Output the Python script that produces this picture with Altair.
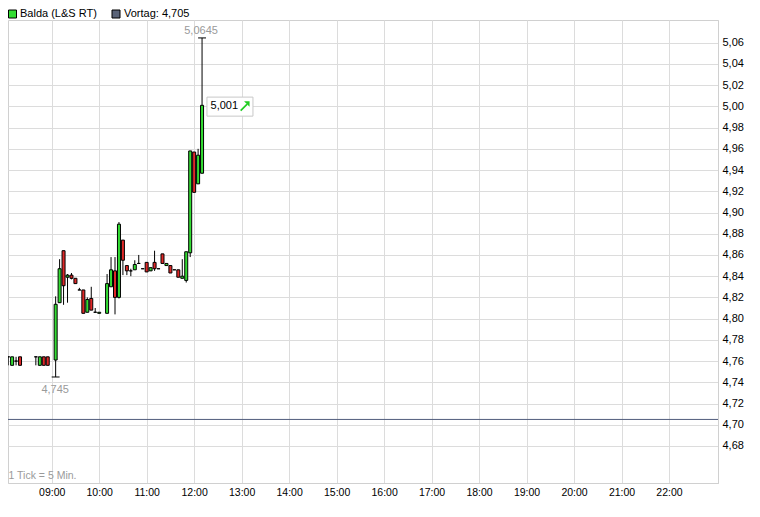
import altair as alt
import pandas as pd

# ---------------- data ----------------
times = ["08:00", "08:05", "08:10", "08:15", "08:20", "08:40", "08:45", "08:50", "08:55",
         "09:05", "09:10", "09:15", "09:20", "09:25", "09:30", "09:35", "09:40", "09:45",
         "09:50", "09:55", "10:00", "10:10", "10:15", "10:20", "10:25", "10:30", "10:35",
         "10:40", "10:45", "10:50", "10:55", "11:00", "11:05", "11:10", "11:15", "11:20",
         "11:25", "11:30", "11:35", "11:40", "11:45", "11:50", "11:55", "12:00", "12:05",
         "12:10"]
opens = [4.756, 4.764, 4.756, 4.760, 4.764, 4.764, 4.756, 4.764, 4.764,
         4.761, 4.815, 4.864, 4.839, 4.841, 4.838, 4.827, 4.827, 4.806,
         4.819, 4.806, 4.805, 4.805, 4.830, 4.845, 4.820, 4.874, 4.850,
         4.845, 4.846, 4.852, 4.847, 4.853, 4.845, 4.853, 4.847, 4.861,
         4.850, 4.850, 4.846, 4.846, 4.838, 4.836, 4.862, 4.957, 4.927,
         4.937]
highs = [4.756, 4.764, 4.764, 4.764, 4.764, 4.764, 4.764, 4.764, 4.764,
         4.821, 4.856, 4.864, 4.842, 4.843, 4.838, 4.829, 4.827, 4.820,
         4.830, 4.810, 4.806, 4.842, 4.858, 4.858, 4.891, 4.874, 4.850,
         4.847, 4.855, 4.860, 4.847, 4.853, 4.848, 4.864, 4.847, 4.861,
         4.852, 4.850, 4.846, 4.846, 4.856, 4.863, 4.958, 4.957, 4.960,
         5.0645]
lows = [4.756, 4.756, 4.756, 4.756, 4.756, 4.756, 4.756, 4.756, 4.756,
        4.745, 4.815, 4.813, 4.815, 4.837, 4.833, 4.827, 4.805, 4.806,
        4.808, 4.806, 4.805, 4.805, 4.830, 4.804, 4.819, 4.841, 4.841,
        4.840, 4.846, 4.852, 4.847, 4.844, 4.845, 4.845, 4.847, 4.852,
        4.850, 4.843, 4.846, 4.839, 4.838, 4.834, 4.858, 4.919, 4.927,
        4.937]
closes = [4.756, 4.764, 4.764, 4.760, 4.756, 4.764, 4.764, 4.756, 4.756,
          4.8135, 4.847, 4.831, 4.841, 4.838, 4.833, 4.827, 4.805, 4.818,
          4.808, 4.806, 4.806, 4.833, 4.846, 4.820, 4.889, 4.855, 4.845,
          4.845, 4.851, 4.852, 4.847, 4.844, 4.848, 4.847, 4.847, 4.852,
          4.852, 4.843, 4.846, 4.839, 4.840, 4.863, 4.958, 4.919, 4.954,
          5.001]

vortag = 4.705
series_name = "Balda (L&S RT)"
tick_note = "1 Tick = 5 Min."
hour_ticks = [9, 10, 11, 12, 13, 14, 15, 16, 17, 18, 19, 20, 21, 22]
price_ticks = [4.68, 4.70, 4.72, 4.74, 4.76, 4.78, 4.80, 4.82, 4.84, 4.86, 4.88,
               4.90, 4.92, 4.94, 4.96, 4.98, 5.00, 5.02, 5.04, 5.06]

# ---------------- styling ----------------
GREEN = "#33dd33"
RED = "#e02828"
VORTAG_COLOR = "#4f5b7c"
GRID = "#dcdcdc"
BORDER = "#d0d0d0"
GREYTXT = "#9a9a9a"
FONT = "Liberation Sans"
DAY = "2010-01-04T"


def de(v, nd):
    s = f"{v:.{nd}f}"
    if "." in s:
        s = s.rstrip("0")
    return s.replace(".", ",")


df = pd.DataFrame({"t": [DAY + t + ":00" for t in times],
                   "open": opens, "high": highs, "low": lows, "close": closes})

tt = pd.to_datetime(df["t"])
i_hi = int(df["high"].idxmax())
i_lo = int(df["low"].idxmin())
fmt = "%Y-%m-%dT%H:%M:%S"
caps = pd.DataFrame({
    "t": [(tt[i_hi] - pd.Timedelta(minutes=5)).strftime(fmt), (tt[i_lo] - pd.Timedelta(minutes=5)).strftime(fmt)],
    "t1": [(tt[i_hi] + pd.Timedelta(minutes=5)).strftime(fmt), (tt[i_lo] + pd.Timedelta(minutes=5)).strftime(fmt)],
    "v": [highs[i_hi], lows[i_lo]],
})
hi_df = pd.DataFrame({"t": [df["t"][i_hi]], "v": [highs[i_hi]], "s": [de(highs[i_hi], 4)]})
lo_df = pd.DataFrame({"t": [df["t"][i_lo]], "v": [lows[i_lo]], "s": [de(lows[i_lo], 4)]})
last_df = pd.DataFrame({"t": [df["t"].iloc[-1]], "v": [closes[-1]], "s": [f"{closes[-1]:.3f}".replace(".", ",")]})
vortag_df = pd.DataFrame({"v": [vortag]})

xs = alt.Scale(domain=[alt.DateTime(year=2010, month=1, date=4, hours=8, minutes=4, seconds=48),
                       alt.DateTime(year=2010, month=1, date=4, hours=23, minutes=1, seconds=54)],
               nice=False, padding=0)
ys = alt.Scale(domain=[4.6451, 5.0814], nice=False, zero=False, padding=0)

x_axis = alt.Axis(values=[alt.DateTime(year=2010, month=1, date=4, hours=h) for h in hour_ticks],
                  format="%H:%M", title=None, ticks=False, labelPadding=4,
                  grid=True, gridColor=GRID, domainColor=BORDER, labelFont=FONT,
                  labelFontSize=10.5, labelColor="#000000", labelFlush=False, labelOverlap=False)
y_axis = alt.Axis(orient="right", values=price_ticks,
                  labelExpr="replace(format(datum.value, '.2f'), '.', ',')",
                  title=None, ticks=False, labelPadding=4, grid=True, gridColor=GRID,
                  domainColor=BORDER, labelFont=FONT, labelFontSize=11,
                  labelColor="#000000", labelOverlap=False)


def X(field):
    return alt.X(field, scale=xs, axis=x_axis)


def Y(field):
    return alt.Y(field, scale=ys, axis=y_axis)


base = alt.Chart(df)

wicks = base.mark_rule(color="#000000", strokeWidth=1).encode(
    x=X("t:T"), y=Y("low:Q"), y2="high:Q",
)

vline = alt.Chart(vortag_df).mark_rule(color=VORTAG_COLOR, strokeWidth=1).encode(
    y=Y("v:Q")
)

bodies = base.transform_calculate(
    dir="datum.close > datum.open ? 'up' : (datum.close < datum.open ? 'down' : 'flat')"
).mark_bar(size=3, stroke="#000000", strokeWidth=1).encode(
    x=X("t:T"), y=Y("open:Q"), y2="close:Q",
    fill=alt.Fill("dir:N", scale=alt.Scale(domain=["up", "down", "flat"],
                                           range=[GREEN, RED, "#000000"]), legend=None),
)

cap_rules = alt.Chart(caps).mark_rule(color="#000000", strokeWidth=1).encode(
    x=X("t:T"), x2="t1:T", y=Y("v:Q"),
)

hi_text = alt.Chart(hi_df).mark_text(font=FONT, fontSize=11, color=GREYTXT,
                                     baseline="alphabetic", dy=-4, dx=-1).encode(
    x=X("t:T"), y=Y("v:Q"), text="s:N")

lo_text = alt.Chart(lo_df).mark_text(font=FONT, fontSize=11, color=GREYTXT,
                                     baseline="alphabetic", dy=16, dx=-0.5).encode(
    x=X("t:T"), y=Y("v:Q"), text="s:N")

box_path = "M0.213,-0.357L2.213,-0.357L2.213,0.470L0.213,0.470Z"
last_box = alt.Chart(last_df).mark_point(shape=box_path, size=2116, filled=True, fill="#ffffff",
                                         stroke="#c8c8c8", strokeWidth=1, opacity=1).encode(
    x=X("t:T"), y=Y("v:Q"))

last_text = alt.Chart(last_df).mark_text(font=FONT, fontSize=11, color="#000000", align="left",
                                         baseline="middle", dx=8.5, dy=1).encode(
    x=X("t:T"), y=Y("v:Q"), text="s:N")

arrow_path = "M9.5,-0.8L9.5,0.3L8.4,-0.8ZM7.6,0.96L7.84,1.2L9.14,-0.1L8.9,-0.34Z"
last_arrow = alt.Chart(last_df).mark_point(shape=arrow_path, size=100, filled=True, fill="#22cc22",
                                           strokeWidth=0, opacity=1).encode(
    x=X("t:T"), y=Y("v:Q"))

note = alt.Chart(pd.DataFrame({"s": [tick_note]})).mark_text(
    font=FONT, fontSize=10.5, color=GREYTXT, align="left", baseline="middle").encode(
    x=alt.value(0.5), y=alt.value(456), text="s:N")

leg_df = pd.DataFrame({"s": [series_name, "Vortag: " + de(vortag, 3)]})
leg_sq1 = alt.Chart(pd.DataFrame({"s": [series_name]})).mark_square(
    size=64, fill=GREEN, stroke="#000000", strokeWidth=1, opacity=1).encode(
    x=alt.value(4.5), y=alt.value(-6))
leg_sq2 = alt.Chart(pd.DataFrame({"s": ["Vortag"]})).mark_square(
    size=64, fill="#5a6378", stroke="#000000", strokeWidth=1, opacity=1).encode(
    x=alt.value(108), y=alt.value(-6))
leg_t1 = alt.Chart(leg_df.iloc[[0]]).mark_text(
    font=FONT, fontSize=11, color="#000000", align="left", baseline="middle").encode(
    x=alt.value(12), y=alt.value(-6), text="s:N")
leg_t2 = alt.Chart(leg_df.iloc[[1]]).mark_text(
    font=FONT, fontSize=11, color="#000000", align="left", baseline="middle").encode(
    x=alt.value(116), y=alt.value(-6), text="s:N")

chart = alt.layer(
    wicks, vline, bodies, cap_rules, hi_text, lo_text, last_box, last_text, last_arrow,
    note, leg_sq1, leg_sq2, leg_t1, leg_t2
).properties(
    width=710, height=463,
    autosize=alt.AutoSizeParams(type="none"),
    padding={"left": 0, "top": 12, "right": 34, "bottom": 24},
    background="#ffffff",
).configure_view(
    stroke=BORDER, strokeWidth=1
)

chart.save("out.html", embed_options={"renderer": "svg", "actions": False})
